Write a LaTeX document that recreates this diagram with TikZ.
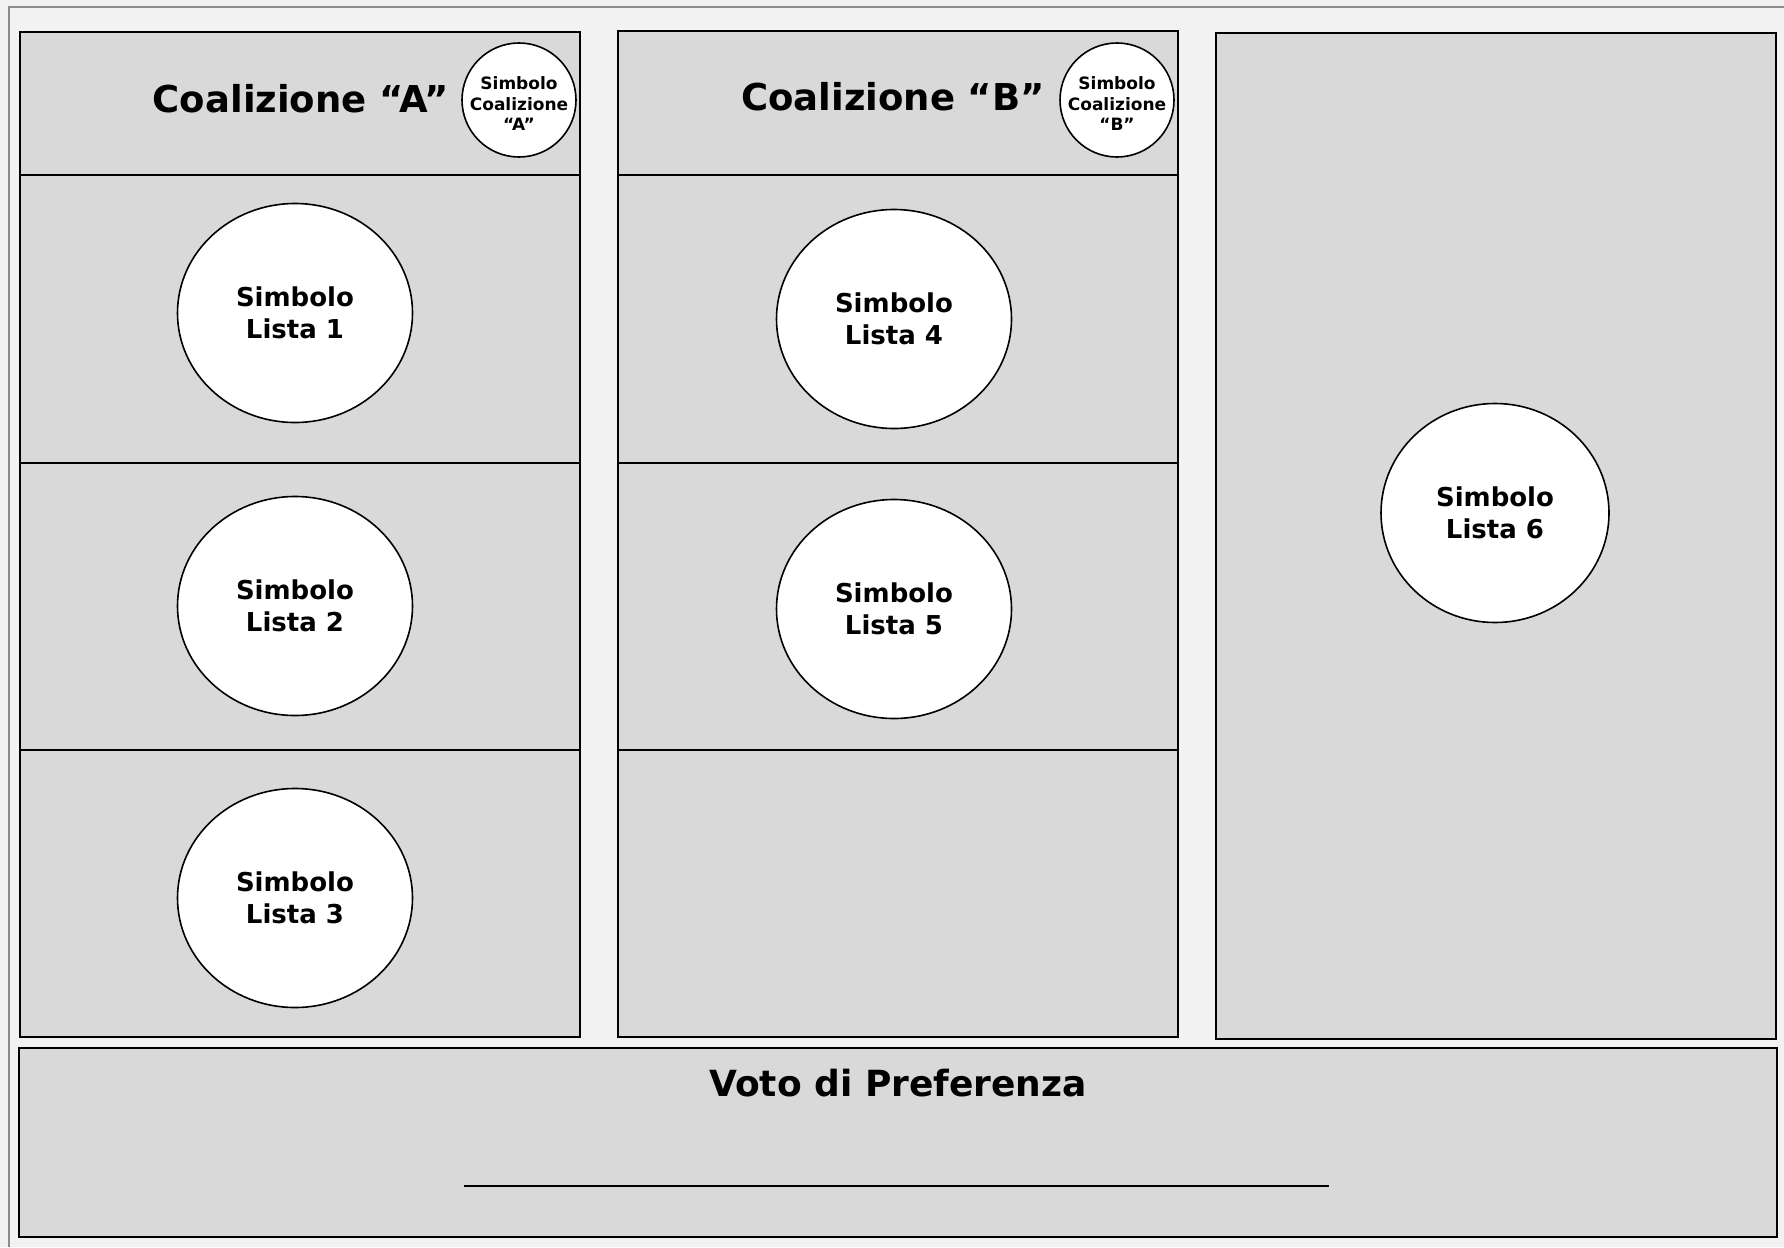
\documentclass[tikz,border=0pt]{standalone}
\usepackage{fontspec}
\setmainfont{DejaVu Sans}
\usetikzlibrary{shapes.geometric}
\definecolor{panel}{HTML}{D9D9D9}
\definecolor{bgc}{HTML}{F2F2F2}
\definecolor{frame}{HTML}{8C8C8C}
\tikzset{
  box/.style={draw=black, line width=2pt, fill=panel},
  sym/.style={ellipse, draw=black, line width=1.6pt, fill=white, inner sep=0pt,
    minimum width=235pt, minimum height=219pt, align=center,
    font=\bfseries\fontsize{26}{32}\selectfont},
  smallsym/.style={circle, draw=black, line width=1.6pt, fill=white, inner sep=0pt,
    minimum size=114pt},
  smalltxt/.style={inner sep=0pt, align=center, font=\bfseries\fontsize{17}{20.5}\selectfont},
  title/.style={font=\bfseries\fontsize{37}{44}\selectfont, inner sep=0pt},
}
\begin{document}
\begin{tikzpicture}[x=1pt,y=-1pt]
\useasboundingbox (0,0) rectangle (1784,1247);
\fill[bgc] (0,0) rectangle (1784,1247);
\draw[frame, line width=2pt] (9,1247) -- (9,7) -- (1784,7);
% column A
\draw[box] (20,32) rectangle (580,1037);
\draw[black, line width=2pt] (20,175) -- (580,175);
\draw[black, line width=2pt] (20,463) -- (580,463);
\draw[black, line width=2pt] (20,750) -- (580,750);
% column B
\draw[box] (618,31) rectangle (1178,1037);
\draw[black, line width=2pt] (618,175) -- (1178,175);
\draw[black, line width=2pt] (618,463) -- (1178,463);
\draw[black, line width=2pt] (618,750) -- (1178,750);
% column C
\draw[box] (1216,33) rectangle (1776,1039);
% bottom
\draw[box] (19,1048) rectangle (1777,1237);
\coordinate (lineL) at (464,1186);
\coordinate (lineR) at (1329,1186);
\draw[black, line width=2pt] (lineL) -- (lineR);
\node[title, font=\bfseries\fontsize{36}{44}\selectfont] (voto) at (898,1083) {Voto di Preferenza};
% headers
\node[title, anchor=east] (coalA) at (449,99) {Coalizione “A”};
\node[smallsym] (symA) at (519,100) {};
\node[smalltxt] (symAt) at ([yshift=-4pt]symA.center) {Simbolo\\Coalizione\\“A”};
\node[title, anchor=east] (coalB) at (1045,97) {Coalizione “B”};
\node[smallsym] (symB) at (1117,100) {};
\node[smalltxt] (symBt) at ([yshift=-4pt]symB.center) {Simbolo\\Coalizione\\“B”};
% list symbols
\node[sym] (l1) at (295,313) {Simbolo\\Lista 1};
\node[sym] (l2) at (295,606) {Simbolo\\Lista 2};
\node[sym] (l3) at (295,898) {Simbolo\\Lista 3};
\node[sym] (l4) at (894,319) {Simbolo\\Lista 4};
\node[sym] (l5) at (894,609) {Simbolo\\Lista 5};
\node[sym, minimum width=228pt] (l6) at (1495,513) {Simbolo\\Lista 6};
\end{tikzpicture}
\end{document}
